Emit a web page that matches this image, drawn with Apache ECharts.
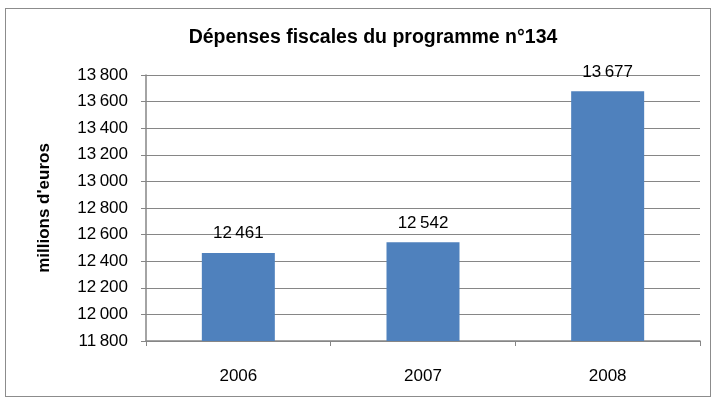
<!DOCTYPE html>
<html>
<head>
<meta charset="utf-8">
<script src="https://cdn.jsdelivr.net/npm/echarts@6/dist/echarts.min.js"></script>
<style>
  html, body { margin: 0; padding: 0; background: #fff; }
  #frame { position: absolute; left: 5px; top: 8px; width: 706px; height: 389px; border: 1px solid #8c8c8c; box-sizing: border-box; }
  #chart { width: 714px; height: 402px; }
</style>
</head>
<body>
<div id="frame"></div>
<div id="chart"></div>
<script>
// données
const years = ['2006', '2007', '2008']
const depenses = [12461, 12542, 13677]
const yMin = 11800
const yMax = 13800
const yStep = 200

// 13800 -> "13 800" (espace fine)
function fmt (v) {
  return String(v).replace(/\B(?=(\d{3})+(?!\d))/g, '\u2009')
}

const chart = echarts.init(document.getElementById('chart'))
const font = 'Liberation Sans, Arial, sans-serif'

chart.setOption({
  animation: false,
  title: {
    text: 'Dépenses fiscales du programme n°134',
    left: 368,
    textAlign: 'center',
    top: 23,
    textStyle: { fontFamily: font, fontSize: 19.5, fontWeight: 'bold', color: '#000' }
  },
  grid: { left: 146, right: 14, top: 75, bottom: 61, containLabel: false },
  xAxis: {
    type: 'category',
    data: years,
    axisLine: { lineStyle: { color: '#868686', width: 1.5 } },
    axisTick: { show: true, length: 5, lineStyle: { color: '#868686' } },
    axisLabel: { fontFamily: font, fontSize: 17, color: '#000', margin: 27 }
  },
  yAxis: {
    type: 'value',
    min: yMin,
    max: yMax,
    interval: yStep,
    name: "millions d'euros",
    nameLocation: 'middle',
    nameGap: 93,
    nameRotate: 90,
    nameTextStyle: { fontFamily: font, fontSize: 17, fontWeight: 'bold', color: '#000' },
    axisLine: { show: true, lineStyle: { color: '#868686', width: 1.5 } },
    axisTick: { show: true, length: 5, lineStyle: { color: '#868686' } },
    axisLabel: { fontFamily: font, fontSize: 17, color: '#000', margin: 18, formatter: fmt },
    splitLine: { lineStyle: { color: '#868686', width: 1 } }
  },
  series: [
    {
      type: 'bar',
      data: depenses,
      barWidth: 73,
      itemStyle: { color: '#4f81bd' },
      label: {
        show: true,
        position: 'top',
        distance: 11,
        fontFamily: font,
        fontSize: 17,
        color: '#000',
        formatter: p => fmt(p.value)
      }
    }
  ]
})
</script>
</body>
</html>
